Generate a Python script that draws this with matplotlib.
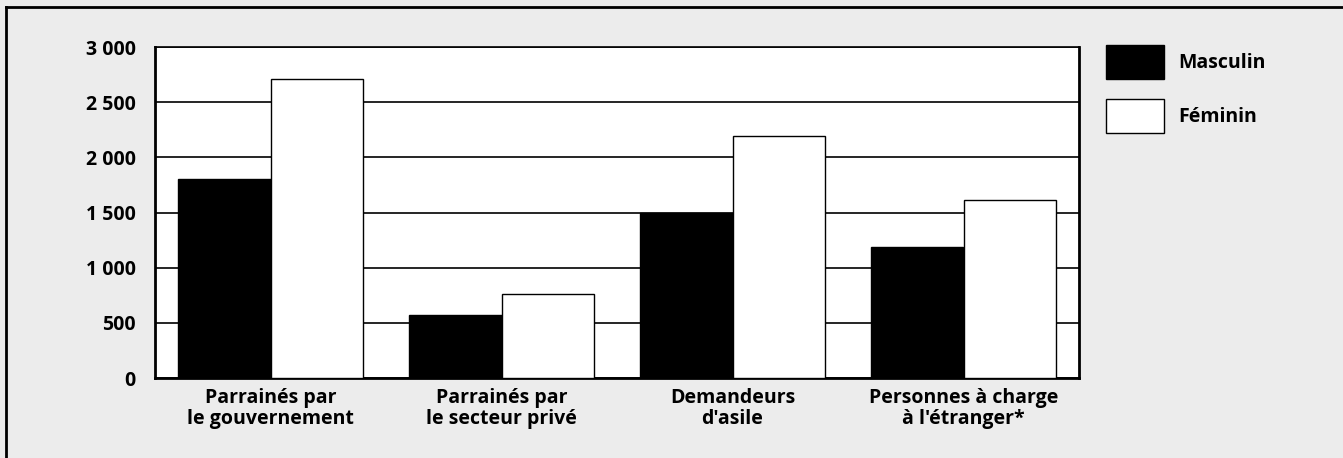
import matplotlib.pyplot as plt
from matplotlib.lines import Line2D
from matplotlib.ticker import FuncFormatter

categories = ['Parrainés par\nle gouvernement', 'Parrainés par\nle secteur privé',
              "Demandeurs\nd'asile", "Personnes à charge\nà l'étranger*"]
masculin = [1800, 570, 1500, 1185]
feminin = [2710, 765, 2190, 1615]
y_ticks = [0, 500, 1000, 1500, 2000, 2500, 3000]

plt.rcParams['font.family'] = ['Open Sans', 'DejaVu Sans']
plt.rcParams['font.weight'] = 'bold'

bg = '#ececec'
fs = 14
fig = plt.figure(figsize=(13.43, 4.58), dpi=100, facecolor=bg)
ax = fig.add_axes([155 / 1343, 1 - 378 / 458, 924 / 1343, 331 / 458])
ax.set_facecolor('white')

x = range(len(categories))
w = 0.4
ax.bar([i - w / 2 for i in x], masculin, width=w, color='black', edgecolor='black',
       linewidth=1, label='Masculin', zorder=3)
ax.bar([i + w / 2 for i in x], feminin, width=w, color='white', edgecolor='black',
       linewidth=1, label='Féminin', zorder=3)

ax.set_xlim(-0.5, 3.5)
ax.set_ylim(0, 3000)
ax.set_yticks(y_ticks)
ax.yaxis.set_major_formatter(FuncFormatter(lambda v, p: f'{int(v):,}'.replace(',', ' ')))
ax.set_xticks(list(x))
ax.set_xticklabels(categories, fontsize=fs, fontweight='bold', linespacing=1.1)
ax.tick_params(axis='y', length=0, pad=14, labelsize=fs)
ax.tick_params(axis='x', length=0, pad=7)
ax.grid(axis='y', color='black', linewidth=1.2, zorder=0)
ax.set_axisbelow(True)

ax.spines['left'].set_linewidth(2)
ax.spines['bottom'].set_linewidth(2)
ax.spines['right'].set_linewidth(2)
ax.spines['top'].set_linewidth(1.2)

ax.legend(loc='upper left', bbox_to_anchor=(1106 / 1343, 1 - 45 / 458),
          bbox_transform=fig.transFigure, frameon=False, fontsize=fs,
          handlelength=3.0, handleheight=2.3, labelspacing=1.05, handletextpad=0.7,
          borderaxespad=0, borderpad=0)

# cadre extérieur (haut et gauche)
fig.add_artist(Line2D([6 / 1343, 6 / 1343], [0, 1 - 7 / 458], color='black', linewidth=2,
                      transform=fig.transFigure))
fig.add_artist(Line2D([6 / 1343, 1], [1 - 7 / 458, 1 - 7 / 458], color='black', linewidth=2,
                      transform=fig.transFigure))

plt.savefig('out.png', dpi=100, facecolor=bg)
